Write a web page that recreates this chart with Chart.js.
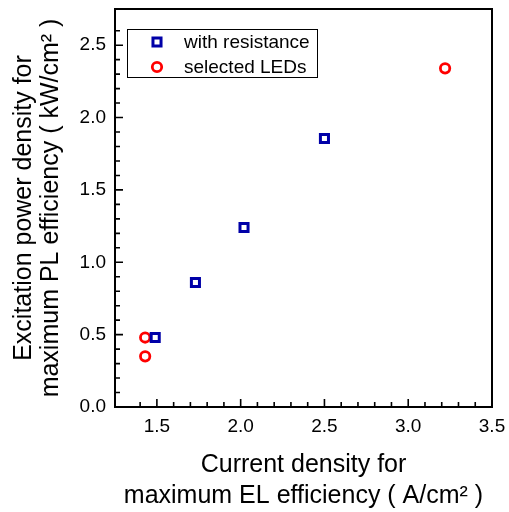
<!DOCTYPE html>
<html>
<head>
<meta charset="utf-8">
<script src="https://cdn.jsdelivr.net/npm/chart.js@4/dist/chart.umd.min.js"></script>
<style>
  html, body { margin: 0; padding: 0; background: #fff; }
  #c { display: block; }
</style>
</head>
<body>
<canvas id="c" width="509" height="512"></canvas>
<script>
// ---- data ----
const resistanceX = [1.49, 1.73, 2.02, 2.50];
const resistanceY = [0.48, 0.86, 1.24, 1.855];
const ledsX = [1.43, 1.43, 3.22];
const ledsY = [0.48, 0.35, 2.34];
const seriesLabels = ['with resistance', 'selected LEDs'];
const xTitle = ['Current density for', 'maximum EL efficiency ( A/cm\u00B2 )'];
const yTitle = ['Excitation power density for', 'maximum PL efficiency ( kW/cm\u00B2 )'];
const xRange = [1.25, 3.5];
const yRange = [0, 2.75];
const majorStep = 0.5;
const minorStep = 0.1;

const FONT = "'Liberation Sans', Arial, Helvetica, sans-serif";
const toPoints = (xs, ys) => xs.map((x, i) => ({ x, y: ys[i] }));
const isMajor = v => Math.abs(v / majorStep - Math.round(v / majorStep)) < 1e-6;
const isMinor = v => Math.abs(v / minorStep - Math.round(v / minorStep)) < 1e-6;

const framePlugin = {
  id: 'frameTicks',
  afterDatasetsDraw(chart) {
    const { ctx, chartArea: a, scales: { x, y } } = chart;
    ctx.save();
    ctx.strokeStyle = '#000';
    ctx.lineWidth = 1.6;
    ctx.beginPath();
    x.ticks.forEach(t => {
      if (!isMinor(t.value)) return;
      const px = x.getPixelForValue(t.value);
      const len = isMajor(t.value) ? 8 : 5;
      ctx.moveTo(px, a.bottom);
      ctx.lineTo(px, a.bottom - len);
    });
    y.ticks.forEach(t => {
      if (!isMinor(t.value)) return;
      const py = y.getPixelForValue(t.value);
      const len = isMajor(t.value) ? 8 : 5;
      ctx.moveTo(a.left, py);
      ctx.lineTo(a.left + len, py);
    });
    ctx.stroke();
    ctx.lineWidth = 2;
    ctx.strokeRect(a.left, a.top, a.right - a.left, a.bottom - a.top);

    // legend box inside the plot
    const bx = a.left + 12, by = a.top + 20, bw = 190, bh = 48;
    ctx.lineWidth = 1;
    ctx.strokeRect(bx + 0.5, by + 0.5, bw, bh);
    chart.data.datasets.forEach((ds, i) => {
      const cy = by + 13 + i * 25;
      const cx = bx + 30;
      ctx.lineWidth = ds.borderWidth;
      ctx.strokeStyle = ds.borderColor;
      ctx.fillStyle = '#fff';
      ctx.beginPath();
      if (ds.pointStyle === 'rect') {
        const s = ds.pointRadius * Math.SQRT1_2;
        ctx.rect(cx - s, cy - s, 2 * s, 2 * s);
      } else {
        ctx.arc(cx, cy, ds.pointRadius, 0, Math.PI * 2);
      }
      ctx.fill();
      ctx.stroke();
      ctx.fillStyle = '#000';
      ctx.font = '19px ' + FONT;
      ctx.textAlign = 'left';
      ctx.textBaseline = 'middle';
      ctx.fillText(ds.label, bx + 57, cy + 1);
    });
    ctx.restore();
  }
};

new Chart(document.getElementById('c'), {
  type: 'scatter',
  data: {
    datasets: [
      {
        label: seriesLabels[0],
        data: toPoints(resistanceX, resistanceY),
        pointStyle: 'rect',
        pointRadius: 5.7,
        borderWidth: 3,
        borderColor: '#0000a8',
        backgroundColor: '#ffffff'
      },
      {
        label: seriesLabels[1],
        data: toPoints(ledsX, ledsY),
        pointStyle: 'circle',
        pointRadius: 4.7,
        borderWidth: 2.8,
        borderColor: '#ff0000',
        backgroundColor: '#ffffff'
      }
    ]
  },
  options: {
    responsive: false,
    devicePixelRatio: 1,
    animation: false,
    layout: { padding: { left: 0, top: 9, right: 17, bottom: 0 } },
    plugins: { legend: { display: false }, tooltip: { enabled: false } },
    scales: {
      x: {
        type: 'linear',
        min: xRange[0], max: xRange[1],
        grid: { display: false, drawTicks: false },
        border: { display: false },
        ticks: {
          stepSize: minorStep,
          autoSkip: false,
          maxRotation: 0,
          padding: 8,
          color: '#000',
          font: { family: FONT, size: 19 },
          callback: v => isMajor(v) ? Number(v).toFixed(1) : ''
        },
        title: {
          display: true,
          text: xTitle,
          color: '#000',
          font: { family: FONT, size: 25, lineHeight: '31px' },
          padding: { top: 0, bottom: 0.5 }
        },
        afterFit: s => { s.height = 105; s.paddingLeft = 0; s.paddingRight = 0; }
      },
      y: {
        type: 'linear',
        min: yRange[0], max: yRange[1],
        grid: { display: false, drawTicks: false },
        border: { display: false },
        ticks: {
          stepSize: minorStep,
          autoSkip: false,
          padding: 9,
          color: '#000',
          font: { family: FONT, size: 19 },
          callback: v => isMajor(v) ? Number(v).toFixed(1) : ''
        },
        title: {
          display: true,
          text: yTitle,
          color: '#000',
          font: { family: FONT, size: 25, lineHeight: '27px' },
          padding: { top: 10.5, bottom: 0 }
        },
        afterFit: s => { s.width = 115; s.paddingTop = 0; s.paddingBottom = 0; }
      }
    }
  },
  plugins: [framePlugin]
});
</script>
</body>
</html>
